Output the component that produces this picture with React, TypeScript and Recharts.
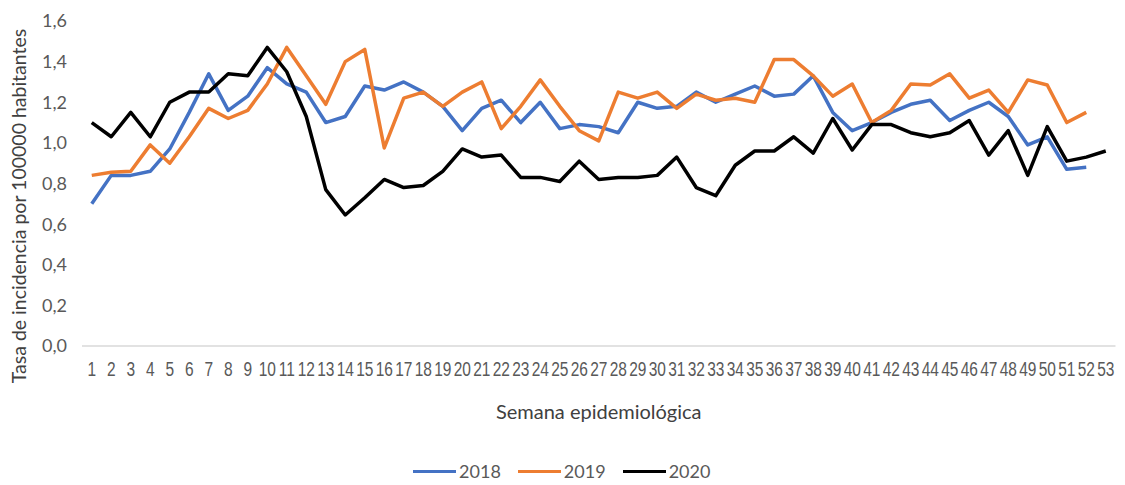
import { LineChart, Line, XAxis, YAxis, Legend } from "recharts";

const weeks = [
  "1", "2", "3", "4", "5", "6", "7", "8", "9", "10",
  "11", "12", "13", "14", "15", "16", "17", "18", "19", "20",
  "21", "22", "23", "24", "25", "26", "27", "28", "29", "30",
  "31", "32", "33", "34", "35", "36", "37", "38", "39", "40",
  "41", "42", "43", "44", "45", "46", "47", "48", "49", "50",
  "51", "52", "53",
];

const v2018 = [
  0.7, 0.84, 0.84, 0.86, 0.97, 1.15, 1.34, 1.16, 1.23, 1.37,
  1.29, 1.25, 1.1, 1.13, 1.28, 1.26, 1.3, 1.25, 1.18, 1.06,
  1.17, 1.21, 1.1, 1.2, 1.07, 1.09, 1.08, 1.05, 1.2, 1.17,
  1.18, 1.25, 1.2, 1.24, 1.28, 1.23, 1.24, 1.33, 1.15, 1.06,
  1.1, 1.15, 1.19, 1.21, 1.11, 1.16, 1.2, 1.13, 0.99, 1.03,
  0.87, 0.88,
];

const v2019 = [
  0.84, 0.855, 0.86, 0.99, 0.9, 1.03, 1.17, 1.12, 1.16, 1.29,
  1.47, 1.33, 1.19, 1.4, 1.46, 0.975, 1.22, 1.25, 1.18, 1.25,
  1.3, 1.07, 1.18, 1.31, 1.18, 1.06, 1.01, 1.25, 1.22, 1.25,
  1.17, 1.24, 1.21, 1.22, 1.2, 1.41, 1.41, 1.33, 1.23, 1.29,
  1.1, 1.16, 1.29, 1.285, 1.34, 1.22, 1.26, 1.15, 1.31, 1.285,
  1.1, 1.15,
];

const v2020 = [
  1.1, 1.03, 1.15, 1.03, 1.2, 1.25, 1.25, 1.34, 1.33, 1.47,
  1.35, 1.13, 0.77, 0.645, 0.73, 0.82, 0.78, 0.79, 0.86, 0.97,
  0.93, 0.94, 0.83, 0.83, 0.81, 0.91, 0.82, 0.83, 0.83, 0.84,
  0.93, 0.78, 0.74, 0.89, 0.96, 0.96, 1.03, 0.95, 1.12, 0.965,
  1.09, 1.09, 1.05, 1.03, 1.05, 1.11, 0.94, 1.06, 0.84, 1.08,
  0.91, 0.93, 0.96,
];

const yTicks = [0, 0.2, 0.4, 0.6, 0.8, 1.0, 1.2, 1.4, 1.6];

const series = [
  { key: "2018", color: "#4472C4" },
  { key: "2019", color: "#ED7D31" },
  { key: "2020", color: "#000000" },
];

const data = weeks.map((w, i) => ({
  week: w,
  "2018": v2018[i] ?? null,
  "2019": v2019[i] ?? null,
  "2020": v2020[i] ?? null,
}));

const FONT = "Lato, 'Open Sans', sans-serif";
const TEXT = "#595959";

// week numbers in the source are tall and narrow: stretch a small font vertically
function WeekTick(props: any) {
  const { x, y, payload } = props;
  return (
    <g transform={`translate(${x},${y + 22}) scale(1,1.35)`}>
      <text
        x={0}
        y={0}
        textAnchor="middle"
        fill={TEXT}
        fontSize={15.5}
        fontFamily="'Liberation Sans', Arial, sans-serif"
      >
        {payload.value}
      </text>
    </g>
  );
}

function LegendContent() {
  return (
    <div
      style={{
        display: "flex",
        justifyContent: "center",
        gap: 17,
        paddingTop: 34,
        fontFamily: FONT,
        fontSize: 18,
        color: TEXT,
      }}
    >
      {series.map((s) => (
        <div key={s.key} style={{ display: "flex", alignItems: "center", gap: 3 }}>
          <span style={{ width: 43, height: 3, background: s.color, display: "inline-block" }} />
          <span>{s.key}</span>
        </div>
      ))}
    </div>
  );
}

export default function App() {
  return (
    <div style={{ width: 1117, height: 477, background: "#fff" }}>
      <LineChart
        width={1117}
        height={477}
        data={data}
        margin={{ top: 13, right: 9.5, bottom: 0, left: 0 }}
      >
        <XAxis
          dataKey="week"
          scale="point"
          padding={{ left: 9.75, right: 9.75 }}
          interval={0}
          height={80}
          axisLine={{ stroke: "#d9d9d9", strokeWidth: 1.5 }}
          tickLine={false}
          tickMargin={2}
          tick={<WeekTick />}
          label={{
            value: "Semana epidemiológica",
            position: "insideBottom",
            offset: 7,
            fill: "#404040",
            fontSize: 20,
            fontFamily: FONT,
          }}
        />
        <YAxis
          width={74}
          domain={[0, 1.6]}
          ticks={yTicks}
          interval={0}
          axisLine={false}
          tickLine={false}
          tickMargin={9}
          tickFormatter={(v) => Number(v).toFixed(1).replace(".", ",")}
          tick={{ fill: TEXT, fontSize: 18, fontFamily: FONT }}
          label={{
            content: () => (
              <text
                x={10}
                y={198}
                transform="rotate(-90 10 198)"
                textAnchor="middle"
                dominantBaseline="central"
                fill="#404040"
                fontSize={19.5}
                fontFamily={FONT}
              >
                Tasa de incidencia por 100000 habitantes
              </text>
            ),
          }}
        />
        <Legend verticalAlign="bottom" content={<LegendContent />} wrapperStyle={{ height: 59 }} />
        {series.map((s) => (
          <Line
            key={s.key}
            dataKey={s.key}
            stroke={s.color}
            strokeWidth={3.5}
            dot={false}
            activeDot={false}
            type="linear"
            strokeLinejoin="round"
            isAnimationActive={false}
          />
        ))}
      </LineChart>
    </div>
  );
}
